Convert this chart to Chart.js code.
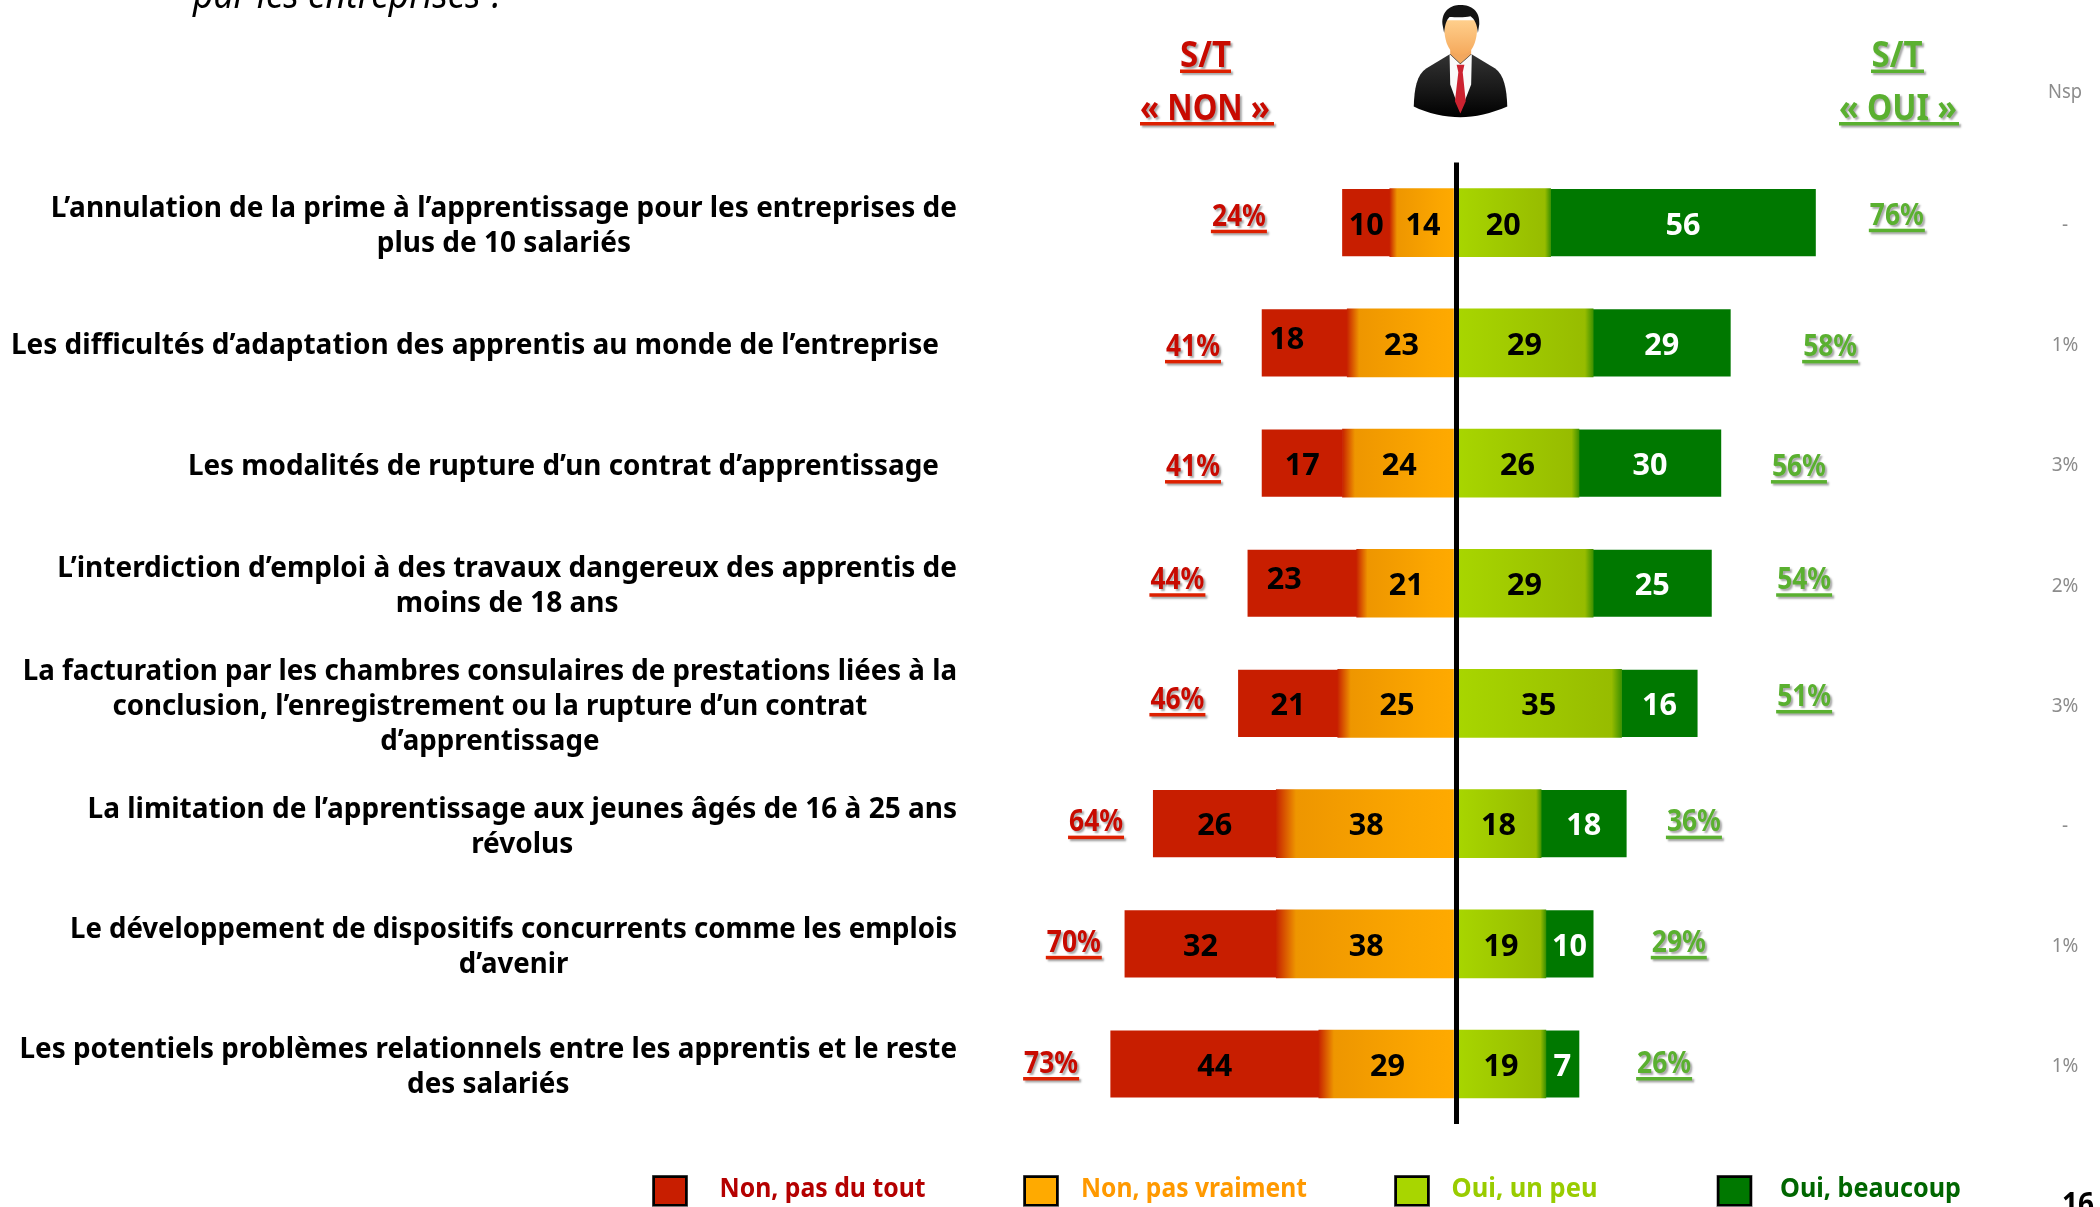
<!DOCTYPE html>
<html lang="fr"><head><meta charset="utf-8">
<title>Chart</title>
<script src="https://cdn.jsdelivr.net/npm/chart.js@4"></script>
<style>
html,body{margin:0;padding:0;background:#fff;width:2100px;height:1207px;overflow:hidden}
#c{position:absolute;left:0;top:0}
#person{position:absolute;left:1390px;top:0;width:138px;height:128px;filter:blur(.6px)}
</style></head><body>
<canvas id="c" width="2100" height="1207"></canvas>
<svg id="person" viewBox="0 0 408 379" xmlns="http://www.w3.org/2000/svg" aria-hidden="true">
<defs>
<linearGradient id="suit" x1="0" y1="0" x2="0" y2="1"><stop offset="0" stop-color="#333"/><stop offset=".6" stop-color="#161616"/><stop offset="1" stop-color="#000"/></linearGradient>
<linearGradient id="skin" x1="0" y1="0" x2="0" y2="1"><stop offset="0" stop-color="#ffcf8c"/><stop offset="1" stop-color="#f5a95c"/></linearGradient>
</defs>
<path d="M70 315C72 262 78 222 108 202L178 160H240L310 202C338 222 345 262 347 315C300 335 250 347 208 347C165 347 110 335 70 315Z" fill="url(#suit)"/>
<path d="M176 160L208 190L242 160L240 250L208 332L178 250Z" fill="#fafafa"/>
<path d="M178 125V160L208 188L240 160V125Z" fill="#f2a75e"/>
<path d="M197 192H220L215 214L224 300L208 336L192 300L202 214Z" fill="#cc2230"/>
<path d="M160 60C158 120 172 162 209 162C246 162 260 120 258 60Z" fill="url(#skin)"/>
<path d="M155 72C152 32 180 15 208 15C240 15 267 32 264 72L260 98C258 72 250 56 238 48C215 53 192 50 176 50C167 58 162 74 160 98Z" fill="#141414"/>
</svg>
<script>
const categories = [
  ["L’annulation de la prime à l’apprentissage pour les entreprises de","plus de 10 salariés"],
  ["Les difficultés d’adaptation des apprentis au monde de l’entreprise"],
  ["Les modalités de rupture d’un contrat d’apprentissage"],
  ["L’interdiction d’emploi à des travaux dangereux des apprentis de","moins de 18 ans"],
  ["La facturation par les chambres consulaires de prestations liées à la","conclusion, l’enregistrement ou la rupture d’un contrat","d’apprentissage"],
  ["La limitation de l’apprentissage aux jeunes âgés de 16 à 25 ans","révolus"],
  ["Le développement de dispositifs concurrents comme les emplois","d’avenir"],
  ["Les potentiels problèmes relationnels entre les apprentis et le reste","des salariés"]
];
const nonPasDuTout   = [10,18,17,23,21,26,32,44];
const nonPasVraiment = [14,23,24,21,25,38,38,29];
const ouiUnPeu       = [20,29,26,29,35,18,19,19];
const ouiBeaucoup    = [56,29,30,25,16,18,10,7];
const totalNon = [24,41,41,44,46,64,70,73];
const totalOui = [76,58,56,54,51,36,29,26];
const nsp = ["-","1%","3%","2%","3%","-","1%","1%"];
const legendNames = ["Non, pas du tout","Non, pas vraiment","Oui, un peu","Oui, beaucoup"];

const FONT = '"Noto Sans"';
const RED='#c81e00', ORANGE='#ffaa00', LIME='#a8d600', GREEN='#007800';

function orangeFill(c){
  const s=c.chart.scales.x; if(!s) return ORANGE;
  const v=nonPasVraiment[c.dataIndex]; if(v===undefined) return ORANGE;
  const a=s.getPixelForValue(-v),b=s.getPixelForValue(0);
  if(!isFinite(a)||!isFinite(b)) return ORANGE;
  const g=c.chart.ctx.createLinearGradient(a,0,b,0);
  g.addColorStop(0,'#c82400');g.addColorStop(.11,'#ee9600');g.addColorStop(.75,'#fba600');g.addColorStop(1,'#ffaa00');
  return g;
}
function limeFill(c){
  const s=c.chart.scales.x; if(!s) return LIME;
  const v=ouiUnPeu[c.dataIndex]; if(v===undefined) return LIME;
  const a=s.getPixelForValue(0),b=s.getPixelForValue(v);
  if(!isFinite(a)||!isFinite(b)) return LIME;
  const g=c.chart.ctx.createLinearGradient(a,0,b,0);
  g.addColorStop(0,'#a8d600');g.addColorStop(.94,'#97bc00');g.addColorStop(1,'#3f9200');
  return g;
}

/* label-placement helpers, in axis units / px offsets from each row */
const nonLabelAt=[-45.9,-55.6,-55.6,-58.9,-58.9,-76.1,-80.8,-85.6];
const ouiLabelAt=[93.2,79.1,72.5,73.6,73.6,50.3,47.1,44];
const nonLift=[-6,4,4,-3,-3.5,-1,-1,0];
const ouiLift=[-7,4,4,-3,-6.5,-1,-1,0];
const labelFit=[1,1,.995,1,.989,1,.985,.994];

function txt(ctx,s,x,y,font,color,align,maxW){
  ctx.font=font;ctx.fillStyle=color;ctx.textAlign=align||'center';ctx.textBaseline='middle';
  if(maxW) ctx.fillText(s,x,y,maxW); else ctx.fillText(s,x,y);
}
function shadowed(ctx,fn){
  ctx.save();ctx.shadowColor='rgba(0,0,0,.35)';ctx.shadowOffsetX=2;ctx.shadowOffsetY=2;ctx.shadowBlur=2;fn();ctx.restore();
}
function ul(ctx,x0,x1,y,color){ctx.fillStyle=color;ctx.fillRect(x0,y,x1-x0,3.5);}

const overlay={
  id:'overlay',
  afterDraw(chart){
    const ctx=chart.ctx,X=chart.scales.x,Y=chart.scales.y;
    ctx.save();
    const rowY=i=>Y.getPixelForValue(i);
    /* row labels */
    categories.forEach((lines,i)=>{
      const f=`bold 28px ${FONT}`;ctx.font=f;
      const fit=labelFit[i];
      const w=Math.max(...lines.map(l=>ctx.measureText(l).width))*fit;
      const right=lines.length===1?939:957;
      const cx=right-w/2, lh=35;
      const y0=rowY(i)+3.5-(lines.length-1)*lh/2;
      lines.forEach((l,k)=>txt(ctx,l,cx,y0+k*lh,f,'#000','center',ctx.measureText(l).width*fit));
    });
    /* segment values */
    const seg=`bold 31px ${FONT}`;
    categories.forEach((_,i)=>{
      const a=nonPasVraiment[i],b=nonPasDuTout[i],c=ouiUnPeu[i],d=ouiBeaucoup[i];
      const lifted=(i===1||i===3);
      txt(ctx,String(b),X.getPixelForValue(-a-b/2)+(lifted?-18:0),rowY(i)+(lifted?-3:3),seg,'#000','center',35);
      txt(ctx,String(a),X.getPixelForValue(-a/2),rowY(i)+3,seg,'#000','center',35);
      txt(ctx,String(c),X.getPixelForValue(c/2),rowY(i)+3,seg,'#000','center',35);
      txt(ctx,String(d),X.getPixelForValue(c+d/2),rowY(i)+3,seg,'#fff','center',35);
    });
    /* totals */
    const tot=`bold 31px ${FONT}`;
    categories.forEach((_,i)=>{
      const xn=X.getPixelForValue(nonLabelAt[i]),yn=rowY(i)+nonLift[i];
      const xo=X.getPixelForValue(ouiLabelAt[i]),yo=rowY(i)+ouiLift[i];
      shadowed(ctx,()=>{
        txt(ctx,totalNon[i]+'%',xn,yn,tot,'#c80a00','center',54);
        ul(ctx,xn-28,xn+28,yn+13,'#dd2000');
        txt(ctx,totalOui[i]+'%',xo,yo,tot,'#5ab030','center',54);
        ul(ctx,xo-28,xo+28,yo+13,'#5ab030');
      });
      txt(ctx,nsp[i],2065,rowY(i)+3,`19px ${FONT}`,'#8c8c8c','center',30);
    });
    /* headers */
    const hd=`bold 35px ${FONT}`;
    shadowed(ctx,()=>{
      txt(ctx,'S/T',1205.5,57,hd,'#c80a00','center',51);
      ul(ctx,1180,1231,69.5,'#dd2000');
      txt(ctx,'« NON »',1205,110,hd,'#c80a00','center',130);
      ul(ctx,1140,1274,122,'#dd2000');
      txt(ctx,'S/T',1897,57,hd,'#5ab030','center',51);
      ul(ctx,1871,1924,69.5,'#5ab030');
      txt(ctx,'« OUI »',1898,110,hd,'#5ab030','center',118);
      ul(ctx,1839,1959,122,'#5ab030');
    });
    txt(ctx,'Nsp',2065,92,`20px ${FONT}`,'#8c8c8c','center',34);
    /* legend */
    const sw=[[652,719.5,206,'#b40000',RED],[1023,1081,226,'#ff9900',ORANGE],[1394,1451.5,146,'#99cc00',LIME],[1716.5,1780,181,'#006600',GREEN]];
    sw.forEach((s,i)=>{
      ctx.fillStyle='#777';ctx.fillRect(s[0],1175,36,32);
      ctx.fillStyle='#000';ctx.fillRect(s[0]+.5,1175.5,35,30.5);
      ctx.fillStyle=s[4];ctx.fillRect(s[0]+3,1178,30,26);
      txt(ctx,legendNames[i],s[1],1189,`bold 27px ${FONT}`,s[3],'left',s[2]);
    });
    /* cropped title and page number */
    txt(ctx,'par les entreprises ?',193,-3,`italic 38px ${FONT}`,'#000','left',312);
    txt(ctx,'16',2078,1205,`bold 30px ${FONT}`,'#000','center',32);
    ctx.restore();
  }
};

new Chart(document.getElementById('c'),{
  type:'bar',
  data:{
    labels:categories.map(l=>l.join(' ')),
    datasets:[
      {label:legendNames[1],data:nonPasVraiment.map(v=>-v),backgroundColor:orangeFill,stack:'s',barThickness:68},
      {label:legendNames[0],data:nonPasDuTout.map(v=>-v),backgroundColor:RED,stack:'s',barThickness:66.5},
      {label:legendNames[2],data:ouiUnPeu,backgroundColor:limeFill,stack:'s',barThickness:68},
      {label:legendNames[3],data:ouiBeaucoup,backgroundColor:GREEN,stack:'s',barThickness:66.5}
    ]
  },
  options:{
    indexAxis:'y',responsive:false,animation:false,
    layout:{padding:{left:983,right:171,top:162.6,bottom:82.9}},
    plugins:{legend:{display:false},tooltip:{enabled:false},title:{display:false}},
    scales:{
      x:{stacked:true,min:-100,max:100,
        ticks:{display:false,stepSize:100},
        border:{display:false},
        grid:{z:1,drawTicks:false,lineWidth:5,color:c=>c.tick&&c.tick.value===0?'#000':'rgba(0,0,0,0)'}},
      y:{stacked:true,ticks:{display:false},border:{display:false},grid:{display:false,drawTicks:false}}
    }
  },
  plugins:[overlay]
});
</script>
</body></html>
